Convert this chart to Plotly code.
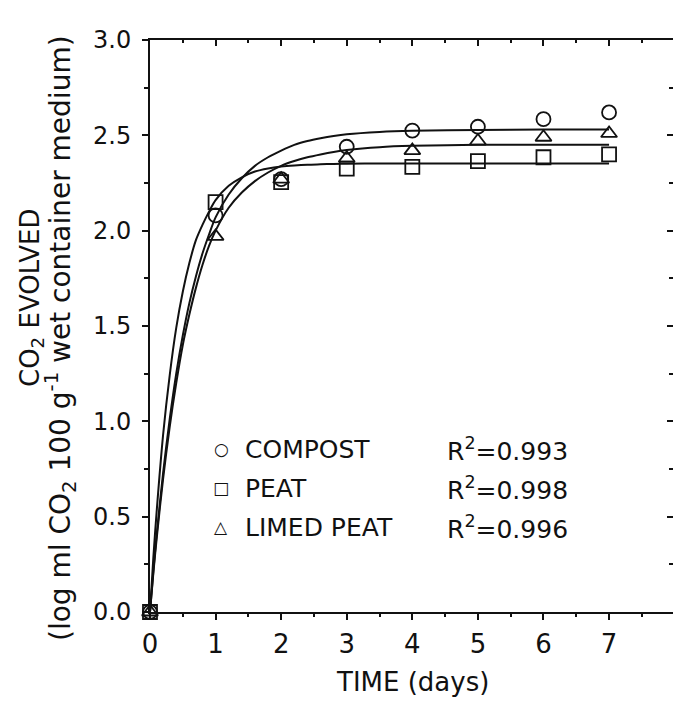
import plotly.graph_objects as go

# ---- data ----
days = [0, 1, 2, 3, 4, 5, 6, 7]
compost_obs = [0.0, 2.08, 2.27, 2.44, 2.525, 2.545, 2.585, 2.62]
peat_obs = [0.0, 2.15, 2.255, 2.325, 2.335, 2.365, 2.385, 2.40]
limed_obs = [0.0, 1.97, 2.27, 2.38, 2.42, 2.47, 2.49, 2.51]

# fitted curves, points
curve_t = [0, 0.05, 0.1, 0.2, 0.3, 0.4, 0.5, 0.6, 0.7, 0.8, 0.9, 1.0, 1.2, 1.4, 1.6, 1.8,
           2.0, 2.2, 2.4, 2.6, 2.8, 3.0, 3.5, 4, 5, 6, 7]
compost_fit = [0, 0.21, 0.40, 0.73, 1.01, 1.25, 1.45, 1.62, 1.76, 1.88, 1.98, 2.07, 2.19, 2.275, 2.34, 2.385,
               2.42, 2.45, 2.47, 2.485, 2.497, 2.506, 2.518, 2.524, 2.528, 2.53, 2.53]
peat_fit = [0, 0.28, 0.52, 0.93, 1.24, 1.49, 1.68, 1.83, 1.95, 2.03, 2.10, 2.16, 2.235, 2.28, 2.31, 2.326,
            2.336, 2.342, 2.346, 2.348, 2.35, 2.351, 2.352, 2.352, 2.352, 2.352, 2.352]
limed_fit = [0, 0.20, 0.38, 0.70, 0.97, 1.20, 1.40, 1.56, 1.70, 1.82, 1.92, 2.00, 2.12, 2.20, 2.26, 2.305,
             2.34, 2.365, 2.385, 2.40, 2.413, 2.423, 2.438, 2.445, 2.45, 2.45, 2.45]

legend_names = ["COMPOST", "PEAT", "LIMED PEAT"]
legend_glyphs = ["○", "□", "△"]
r2_values = ["0.993", "0.998", "0.996"]

x_ticks = [0, 1, 2, 3, 4, 5, 6, 7]
y_ticks = [0.0, 0.5, 1.0, 1.5, 2.0, 2.5, 3.0]

INK = "#111111"
FONT = "DejaVu Sans"

fig = go.Figure()

for fit in (compost_fit, peat_fit, limed_fit):
    fig.add_trace(go.Scatter(x=curve_t, y=fit, mode="lines",
                             line=dict(color=INK, width=2, shape="spline", smoothing=0.8),
                             showlegend=False, hoverinfo="skip", cliponaxis=False))

for obs, sym in ((peat_obs, "square-open"), (limed_obs, "triangle-up-open"), (compost_obs, "circle-open")):
    fig.add_trace(go.Scatter(x=days, y=obs, mode="markers",
                             marker=dict(symbol=sym, size=14, color=INK, line=dict(width=1.8, color=INK)),
                             showlegend=False, cliponaxis=False))

# invisible trace for the mirrored (top/right) axes
fig.add_trace(go.Scatter(x=[0], y=[0], xaxis="x2", yaxis="y2", mode="markers",
                         marker=dict(opacity=0), showlegend=False, hoverinfo="skip"))

XR = [0, 7.975]
fig.update_layout(
    width=673, height=702,
    margin=dict(l=150, r=0, t=40, b=90),
    paper_bgcolor="white", plot_bgcolor="white",
    font=dict(family=FONT, color=INK),
    xaxis=dict(range=XR, tickvals=x_ticks, ticktext=[str(v) for v in x_ticks],
               ticks="outside", ticklen=6, tickwidth=1.5, tickcolor=INK,
               minor=dict(dtick=0.5, tick0=0, ticks="outside", ticklen=3, tickwidth=1.5, tickcolor=INK),
               showline=True, linecolor=INK, linewidth=2, showgrid=False, zeroline=False,
               tickfont=dict(size=26, family=FONT, color=INK), ticklabelstandoff=2),
    yaxis=dict(range=[0, 3], tickvals=y_ticks, ticktext=[f"{v:.1f}" for v in y_ticks],
               ticks="outside", ticklen=6, tickwidth=1.5, tickcolor=INK,
               minor=dict(dtick=0.25, tick0=0, ticks="outside", ticklen=4, tickwidth=1.5, tickcolor=INK),
               showline=True, linecolor=INK, linewidth=2, showgrid=False, zeroline=False,
               tickfont=dict(size=24, family=FONT, color=INK), ticklabelstandoff=6),
    xaxis2=dict(range=XR, overlaying="x", side="top", anchor="y2", tickvals=x_ticks,
                ticks="inside", ticklen=6, tickwidth=1.5, tickcolor=INK,
                minor=dict(dtick=0.5, tick0=0, ticks="inside", ticklen=3, tickwidth=1.5, tickcolor=INK),
                showline=True, linecolor=INK, linewidth=2, showticklabels=False,
                showgrid=False, zeroline=False),
    yaxis2=dict(range=[0, 3], overlaying="y", side="right", anchor="x2", tickvals=y_ticks,
                ticks="inside", ticklen=6, tickwidth=1.5, tickcolor=INK,
                minor=dict(dtick=0.25, tick0=0, ticks="inside", ticklen=4, tickwidth=1.5, tickcolor=INK),
                showline=False, showticklabels=False, showgrid=False, zeroline=False),
)

# plot-area pixel helpers (for text placement only)
PL, PW, PT, PH = 150, 523, 40, 572
def px(X):
    return (X - PL) / PW
def py(Y):
    return (PT + PH - Y) / PH

ann = []
rows_y = [449, 488, 527]
for name, glyph, r2, Y in zip(legend_names, legend_glyphs, r2_values, rows_y):
    ann.append(dict(x=px(221), y=py(Y), xref="paper", yref="paper", text=glyph, showarrow=False,
                    xanchor="center", yanchor="middle", font=dict(size=17, family=FONT, color=INK)))
    ann.append(dict(x=px(243), y=py(Y), xref="paper", yref="paper", text=name, showarrow=False,
                    xanchor="left", yanchor="middle", font=dict(size=25, family=FONT, color=INK)))
    ann.append(dict(x=px(445), y=py(Y), xref="paper", yref="paper", text=f"R<sup>2</sup>={r2}",
                    showarrow=False, xanchor="left", yanchor="middle",
                    font=dict(size=25, family=FONT, color=INK)))

ann.append(dict(x=px(412), y=py(682), xref="paper", yref="paper", text="TIME (days)", showarrow=False,
                xanchor="center", yanchor="middle", font=dict(size=26, family=FONT, color=INK)))
ann.append(dict(x=px(31), y=py(298), xref="paper", yref="paper", text="CO<sub>2</sub> EVOLVED",
                showarrow=False, textangle=-90, xanchor="center", yanchor="middle",
                font=dict(size=26, family=FONT, color=INK)))
ann.append(dict(x=px(60), y=py(338), xref="paper", yref="paper",
                text="(log ml CO<sub>2</sub> 100 g<sup>-1</sup> wet container medium)",
                showarrow=False, textangle=-90, xanchor="center", yanchor="middle",
                font=dict(size=28, family=FONT, color=INK)))
fig.update_layout(annotations=ann)

fig.write_html("out.html")
